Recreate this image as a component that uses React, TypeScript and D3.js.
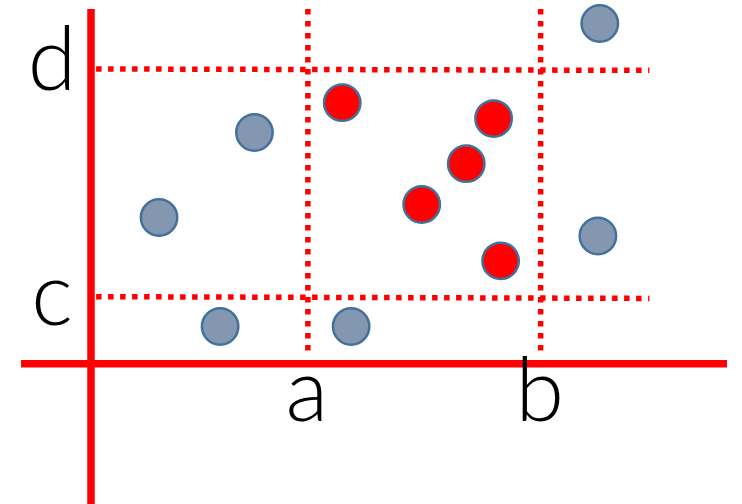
import React from "react";
import * as d3 from "d3";

const W = 742;
const H = 504;

// data units: x and y both 0..100
const xCuts = [
  { label: "a", value: 34.1 },
  { label: "b", value: 70.7 },
];
const yCuts = [
  { label: "d", value: 83.1, valueEnd: 82.7 },
  { label: "c", value: 18.9, valueEnd: 18.4 },
];
const outsidePoints: [number, number][] = [
  [80.0, 95.9],
  [25.7, 65.2],
  [10.7, 41.2],
  [79.7, 36.0],
  [20.3, 10.5],
  [40.9, 10.5],
];
const insidePoints: [number, number][] = [
  [39.5, 73.6],
  [63.3, 69.1],
  [59.0, 56.4],
  [52.0, 44.9],
  [64.4, 29.0],
];
const xAxisExtent = [-11, 100];
const yAxisExtent = [-39.8, 100];
const cutVExtent = [2.5, 100];
const cutHExtent = [0.8, 87.8];

export default function App() {
  const x = d3.scaleLinear().domain([0, 100]).range([91, 727]);
  const y = d3.scaleLinear().domain([0, 100]).range([363.7, 9]);
  const red = "#FF0000";
  const dash = "5.5 6.5";
  const font = "Lato, 'Open Sans', sans-serif";
  const fs = 88;
  return (
    <svg
      width={W}
      height={H}
      style={{ position: "absolute", left: 0, top: 0, background: "#fff" }}
    >
      {xCuts.map((c) => (
        <line
          key={c.label}
          x1={x(c.value)}
          x2={x(c.value)}
          y1={y(cutVExtent[1])}
          y2={y(cutVExtent[0])}
          stroke={red}
          strokeWidth={5.5}
          strokeDasharray={dash}
        />
      ))}
      {yCuts.map((c) => (
        <line
          key={c.label}
          x1={x(cutHExtent[0])}
          x2={x(cutHExtent[1])}
          y1={y(c.value)}
          y2={y(c.valueEnd)}
          stroke={red}
          strokeWidth={5.5}
          strokeDasharray={dash}
        />
      ))}
      <line
        x1={x(xAxisExtent[0])}
        x2={x(xAxisExtent[1])}
        y1={y(0)}
        y2={y(0)}
        stroke={red}
        strokeWidth={7.5}
      />
      <line
        x1={x(0)}
        x2={x(0)}
        y1={y(yAxisExtent[1])}
        y2={y(yAxisExtent[0])}
        stroke={red}
        strokeWidth={7.5}
      />
      {outsidePoints.map((p, i) => (
        <circle
          key={"o" + i}
          cx={x(p[0])}
          cy={y(p[1])}
          r={18.2}
          fill="#8497B0"
          stroke="#41719C"
          strokeWidth={2.5}
        />
      ))}
      {insidePoints.map((p, i) => (
        <circle
          key={"i" + i}
          cx={x(p[0])}
          cy={y(p[1])}
          r={18.2}
          fill={red}
          stroke="#41719C"
          strokeWidth={2.5}
        />
      ))}
      {xCuts.map((c) => (
        <text
          key={"t" + c.label}
          x={x(c.value) - 1}
          y={421}
          textAnchor="middle"
          fontFamily={font}
          fontWeight={300}
          fontSize={fs}
          fill="#000"
        >
          {c.label}
        </text>
      ))}
      {yCuts.map((c) => (
        <text
          key={"t" + c.label}
          x={52}
          y={y(c.value) + (c.label === "d" ? 21 : 28.5)}
          textAnchor="middle"
          fontFamily={font}
          fontWeight={300}
          fontSize={fs}
          fill="#000"
        >
          {c.label}
        </text>
      ))}
    </svg>
  );
}
